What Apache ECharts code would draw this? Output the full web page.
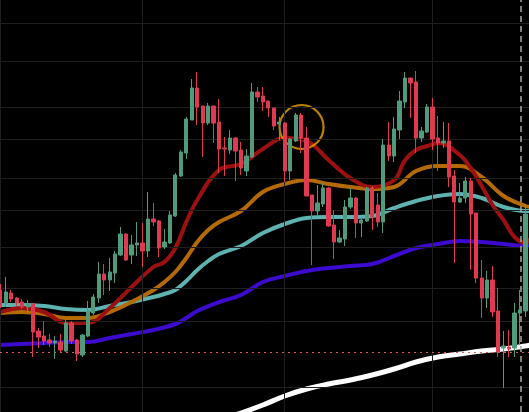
<!DOCTYPE html>
<html>
<head>
<meta charset="utf-8">
<title>Candles with moving averages</title>
<script src="https://cdn.jsdelivr.net/npm/echarts@6/dist/echarts.min.js"></script>
<style>
    html, body {
        margin: 0;
        padding: 0;
        background: #000;
    }
    #chart {
        width: 529px;
        height: 412px;
    }
</style>
</head>
<body>
<div id="chart"></div>
<script>
// one candle per slot: [open, close, low, high]
const candles = [
    [122, 106, 104, 128], [109, 120, 105, 135], [119, 113, 110, 122], [114, 109, 106, 115],
    [110, 105, 103, 113], [105, 108, 100, 112], [108, 80, 55, 109], [81, 75, 64, 84],
    [76, 71, 67, 91], [72, 69, 65, 78], [69, 71, 53, 76], [70, 62, 60, 78],
    [61, 89, 60, 93], [89, 71, 68, 91], [72, 58, 51, 73], [57, 77, 55, 78],
    [76, 101, 75, 111], [99, 115, 97, 118], [114, 138, 109, 150], [138, 132, 117, 148],
    [132, 140, 121, 154], [139, 158, 129, 161], [157, 178, 156, 185], [178, 152, 151, 179],
    [157, 167, 148, 177], [167, 169, 156, 190], [169, 161, 145, 189], [161, 193, 155, 220],
    [193, 190, 186, 209], [191, 164, 155, 192], [165, 170, 163, 183], [169, 197, 168, 201],
    [196, 237, 195, 239], [236, 260, 235, 262], [259, 293, 253, 295], [292, 324, 292, 333],
    [324, 305, 287, 340], [306, 289, 255, 306], [289, 306, 287, 309], [306, 289, 269, 306],
    [290, 263, 239, 313], [264, 263, 236, 275], [262, 274, 258, 282], [274, 261, 231, 275],
    [262, 244, 237, 270], [241, 256, 236, 263], [255, 320, 254, 329], [320, 315, 310, 325],
    [316, 310, 301, 325], [311, 304, 295, 311], [304, 286, 282, 304], [288, 290, 272, 295],
    [289, 241, 230, 290], [241, 273, 232, 274], [271, 297, 270, 299], [297, 274, 259, 299],
    [274, 216, 216, 285], [217, 201, 147, 217], [201, 209, 197, 227], [208, 224, 205, 229],
    [224, 186, 185, 225], [187, 170, 153, 202], [170, 174, 169, 182], [173, 205, 166, 212],
    [205, 214, 203, 224], [214, 189, 174, 215], [189, 192, 175, 195], [191, 224, 190, 225],
    [224, 195, 182, 226], [207, 190, 185, 219], [190, 267, 179, 273], [267, 256, 251, 290],
    [256, 283, 250, 295], [282, 311, 273, 321], [310, 334, 304, 340], [334, 329, 294, 334],
    [330, 274, 259, 341], [274, 281, 270, 285], [280, 305, 279, 308], [305, 273, 262, 314],
    [274, 269, 241, 296], [269, 271, 264, 290], [271, 235, 225, 289], [236, 210, 149, 242],
    [210, 214, 209, 229], [214, 231, 209, 235], [231, 198, 142, 234], [199, 134, 129, 199],
    [134, 114, 94, 152], [114, 132, 104, 141], [132, 100, 95, 146], [101, 60, 55, 124],
    [64, 66, 24, 81], [65, 63, 55, 82], [64, 99, 55, 109], [99, 102, 67, 122],
    [101, 198, 95, 208]
];

// moving averages as [slot, value]
const fastAvg = [
    [0, 100], [4, 104], [8, 100], [12, 89], [16, 89], [20, 104], [24, 125], [28, 145],
    [30, 150], [32, 164], [34, 190], [36, 212], [40, 242], [44, 248], [48, 263], [52, 274],
    [56, 271], [60, 252], [64, 234], [68, 225], [72, 232], [74, 252], [76, 262], [78, 266],
    [80, 269], [84, 257], [86, 244], [88, 226], [90, 207], [92, 192], [94, 175], [96, 169], [97, 174]
];
const midAvg = [
    [0, 99], [4, 100], [8, 98], [12, 94], [16, 94], [20, 100], [24, 110], [28, 122],
    [30, 130], [32, 140], [34, 154], [36, 170], [38, 182], [40, 190], [44, 201], [48, 220],
    [52, 228], [56, 232], [60, 228], [64, 225], [68, 223], [72, 225], [76, 241], [80, 246],
    [84, 246], [88, 235], [92, 216], [96, 206], [97, 205]
];
const slowAvg = [
    [0, 107], [4, 107], [8, 106], [12, 103], [16, 102], [20, 106], [24, 110], [28, 115],
    [30, 118], [32, 122], [34, 131], [36, 142], [38, 151], [40, 158], [44, 166], [48, 179],
    [52, 188], [56, 194], [60, 195], [64, 195], [68, 196], [72, 204], [76, 211], [80, 216],
    [84, 218], [88, 214], [92, 205], [96, 201], [97, 201]
];
const longAvg = [
    [0, 67], [4, 68], [8, 69], [12, 70], [16, 70], [20, 74], [24, 78], [28, 82],
    [32, 88], [34, 94], [36, 101], [40, 110], [44, 117], [48, 130], [52, 136], [56, 141],
    [60, 144], [64, 146], [68, 148], [72, 156], [76, 164], [80, 168], [84, 171], [88, 170],
    [92, 168], [96, 166], [97, 166]
];
const trendAvg = [
    [36, -23], [40, -8], [44, -1], [48, 7], [52, 16], [56, 23], [60, 28], [64, 32],
    [68, 37], [72, 43], [76, 50], [80, 55], [84, 58], [88, 61], [92, 63], [96, 66], [97, 67]
];

const priceLines = [389, 351, 305, 273, 234, 202, 165, 124, 91, 25];
const slotLines = [-0.05, 25.9, 51.9, 78.9];
const refLevel = 60;
const cursorSlot = 95.06;
const marked = [55.07, 285];

let chartDom = document.getElementById('chart');
let myChart = echarts.init(chartDom);

function avgLine(data, color, width) {
    return {
        type: 'line',
        data: data,
        smooth: 0.4,
        showSymbol: false,
        silent: true,
        z: 2,
        lineStyle: {color: color, width: width}
    };
}

let option = {
    backgroundColor: '#000',
    animation: false,
    grid: {left: 0, right: 0, top: 0, bottom: 0},
    xAxis: {
        type: 'value',
        min: -0.055,
        max: 96.65,
        show: false,
        splitLine: {show: false}
    },
    yAxis: {
        type: 'value',
        min: 0,
        max: 412,
        show: false,
        splitLine: {show: false}
    },
    series: [
        {
            // grid lines
            type: 'line',
            data: [],
            z: 1,
            silent: true,
            markLine: {
                symbol: 'none',
                silent: true,
                label: {show: false},
                lineStyle: {color: '#1f1f1f', width: 1, type: 'solid'},
                data: priceLines.map(v => ({yAxis: v}))
                        .concat(slotLines.map(v => ({xAxis: v})))
            }
        },
        avgLine(longAvg, '#3d0ad0', 4),
        avgLine(slowAvg, '#5eb3b0', 4),
        avgLine(midAvg, '#b46a06', 4),
        avgLine(fastAvg, '#9c1010', 4),
        avgLine(trendAvg, '#ffffff', 5),
        {
            type: 'line',
            data: [],
            z: 3,
            silent: true,
            markLine: {
                symbol: 'none',
                silent: true,
                label: {show: false},
                data: [
                    {yAxis: refLevel, lineStyle: {color: '#d85a5a', width: 1, type: [2, 4]}},
                    {xAxis: cursorSlot, lineStyle: {color: '#a8a8a8', width: 1.5, type: [6, 4]}}
                ]
            }
        },
        {
            type: 'scatter',
            data: [marked],
            symbol: 'circle',
            symbolSize: 44,
            silent: true,
            z: 4,
            itemStyle: {color: 'rgba(0,0,0,0)', borderColor: '#eaa200', borderWidth: 2.2}
        },
        {
            type: 'candlestick',
            data: candles.map((c, i) => [i].concat(c)),
            encode: {x: 0, y: [1, 2, 3, 4]},
            barWidth: 3.8,
            z: 5,
            itemStyle: {
                color: '#4f9b7c',
                color0: '#e03a50',
                borderColor: '#4f9b7c',
                borderColor0: '#e03a50',
                borderWidth: 1
            }
        }
    ]
};
option && myChart.setOption(option);
</script>
</body>
</html>
